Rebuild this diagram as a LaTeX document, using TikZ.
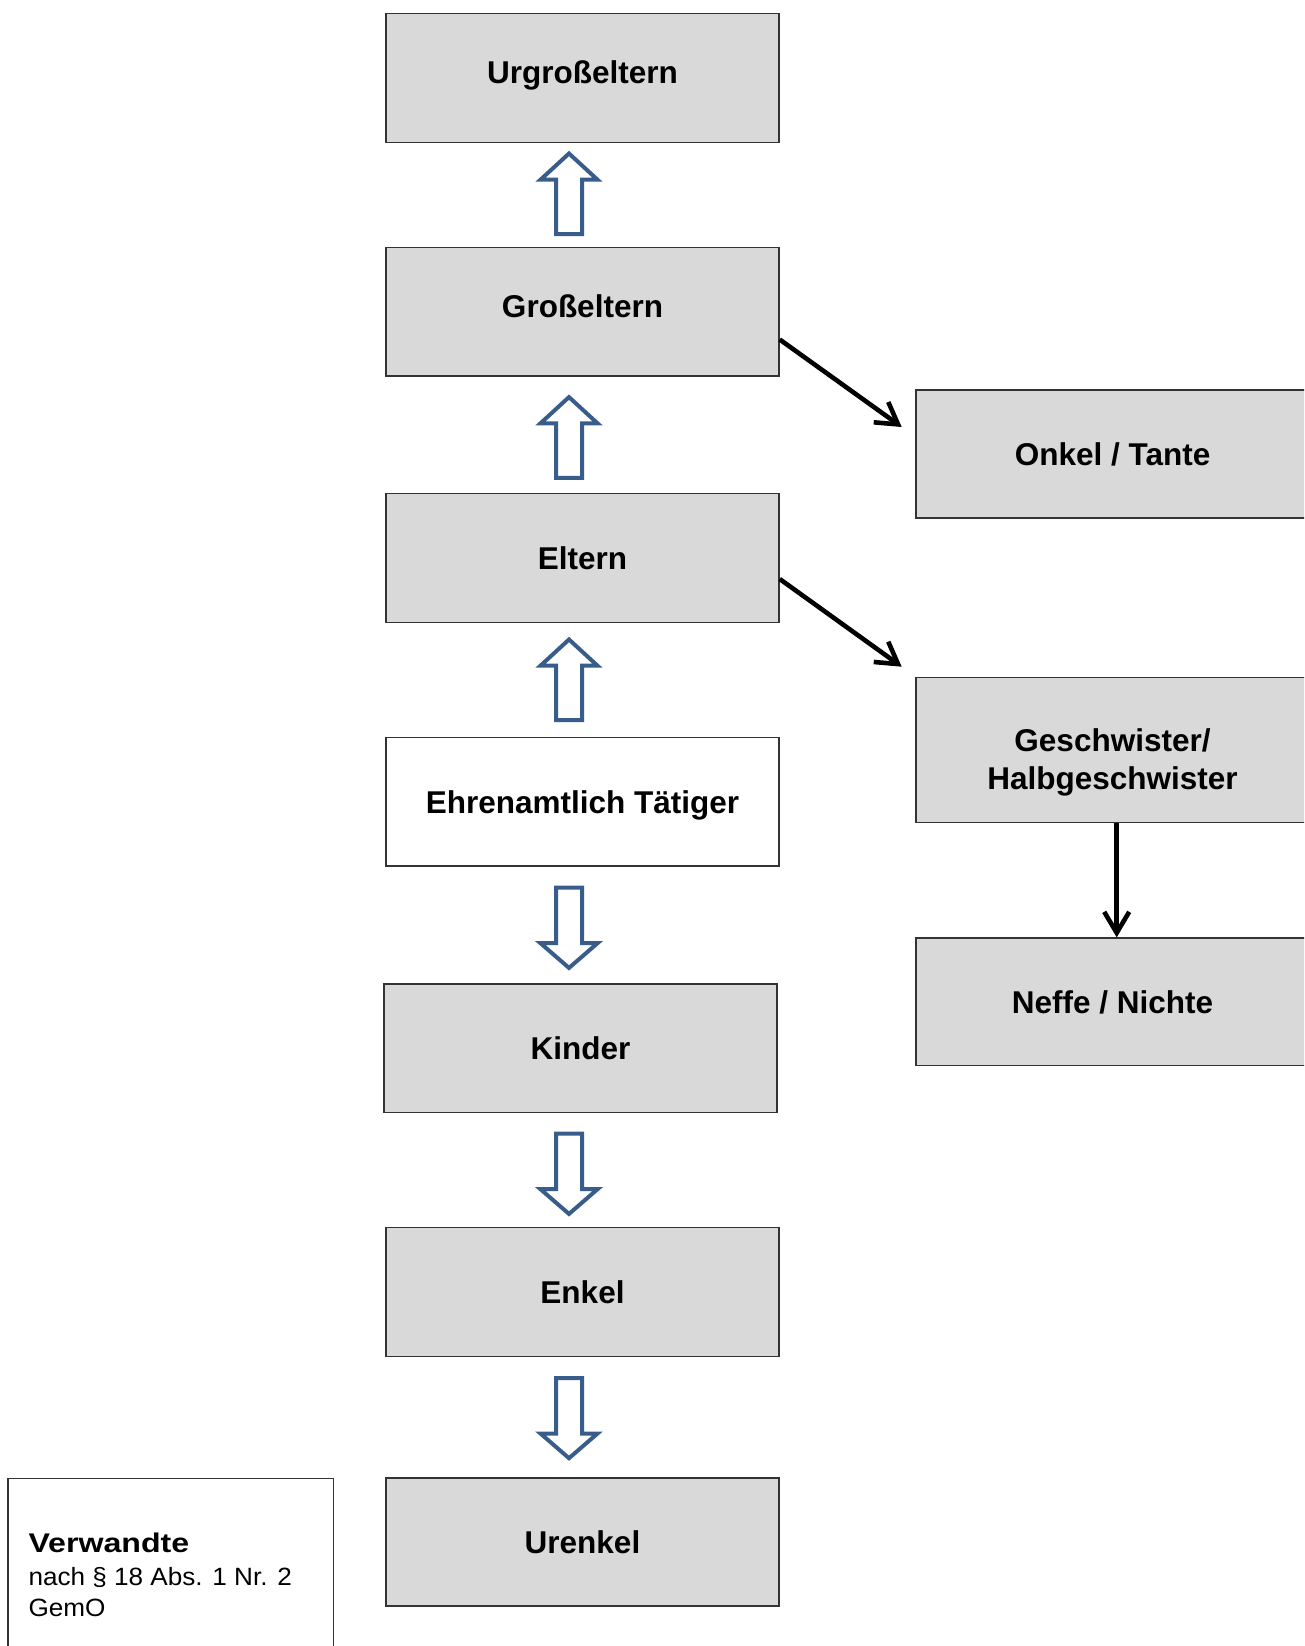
\documentclass[tikz,border=0pt]{standalone}
\usepackage{fontspec}
\setmainfont{Liberation Sans}
\newfontfamily\verwfontB[FakeStretch=1.19]{Liberation Sans}
\newfontfamily\verwfontR[FakeStretch=1.045]{Liberation Sans}
\usetikzlibrary{arrows.meta,calc}
\definecolor{boxgray}{HTML}{D9D9D9}
\definecolor{arrowblue}{HTML}{385D8A}
\begin{document}
\begin{tikzpicture}[x=1pt,y=-1pt,
  box/.style={draw=black!80, line width=1.4pt, fill=boxgray, rectangle,
    minimum width=393pt, inner sep=0pt,
    font=\fontsize{31.5}{30}\selectfont\bfseries, text height=22.6pt, text depth=0pt},
  boxtext/.style={inner sep=0pt, anchor=base, font=\fontsize{31.5}{30}\selectfont\bfseries},
  conn/.style={line width=4.6pt, -{Straight Barb[length=21pt,width=25pt]}},
  blockarrow/.style={draw=arrowblue, line width=4pt, fill=white, line join=miter},
  pics/uparr/.style={code={\draw[blockarrow] (0,2.8) -- (28.5,29) -- (13,29) -- (13,83.5) -- (-13,83.5) -- (-13,29) -- (-28.5,29) -- cycle;}},
  pics/downarr/.style={code={\draw[blockarrow] (0,82.2) -- (28.5,57.5) -- (13,57.5) -- (13,2) -- (-13,2) -- (-13,57.5) -- (-28.5,57.5) -- cycle;}},
]
\useasboundingbox (0,0) rectangle (1304,1646);
\clip (0,0) rectangle (1304,1646);

% central column
\node[box, minimum height=129pt, text depth=12pt] (urgross) at (582.5,77.8) {Urgroßeltern};
\node[box, minimum height=128.7pt, text depth=12pt] (gross) at (582.5,311.7) {Großeltern};
\node[box, minimum height=129pt] (eltern) at (582.5,558) {Eltern};
\node[box, fill=white, minimum height=128.3pt] (ehren) at (582.5,801.9) {Ehrenamtlich Tätiger};
\node[box, minimum height=128.3pt] (kinder) at (580.5,1048.2) {Kinder};
\node[box, minimum height=128.6pt] (enkel) at (582.5,1292) {Enkel};
\node[box, minimum height=128pt] (urenkel) at (582.5,1542) {Urenkel};

% right column
\node[box, minimum height=127.7pt] (onkel) at (1112.5,454) {Onkel / Tante};
\node[box, minimum height=145pt] (gesch) at (1112.5,749.8) {};
\node[boxtext] (gesch1) at (1112.5,751.7) {Geschwister/};
\node[boxtext] (gesch2) at (1112.5,789) {Halbgeschwister};
\node[box, minimum height=127.7pt] (neffe) at (1112.5,1001.9) {Neffe / Nichte};

% legend box
\node[draw=black!80, line width=1.4pt, fill=white, rectangle, inner sep=0pt,
  minimum width=325.7pt, minimum height=221.7pt] (verw) at (170.85,1589.2) {};
\node[inner sep=0pt, anchor=base west, font=\verwfontB\fontsize{27}{30}\selectfont\bfseries] (verw1) at (28.3,1552.7) {Verwandte};
\node[inner sep=0pt, anchor=base west, font=\verwfontR\fontsize{25}{30}\selectfont] (verw2) at (28.3,1585) {nach § 18 Abs. 1 Nr. 2};
\node[inner sep=0pt, anchor=base west, font=\verwfontR\fontsize{25}{30}\selectfont] (verw3) at (28.3,1616.3) {GemO};

% block arrows
\pic at (569,150.7) {uparr};
\pic at (569,394.3) {uparr};
\pic at (569,636.7) {uparr};
\pic at (569,885.7) {downarr};
\pic at (569,1131.7) {downarr};
\pic at (569,1376) {downarr};

% black connectors
\coordinate (t1) at (901.7,427);
\coordinate (t2) at (901.7,666.7);
\draw[conn] ([yshift=-27.8pt]gross.east) -- (t1);
\draw[conn] ([yshift=-21pt]eltern.east) -- (t2);
\draw[conn] ([xshift=4.2pt]gesch.south) -- ([xshift=4.2pt]neffe.north);
\end{tikzpicture}
\end{document}
